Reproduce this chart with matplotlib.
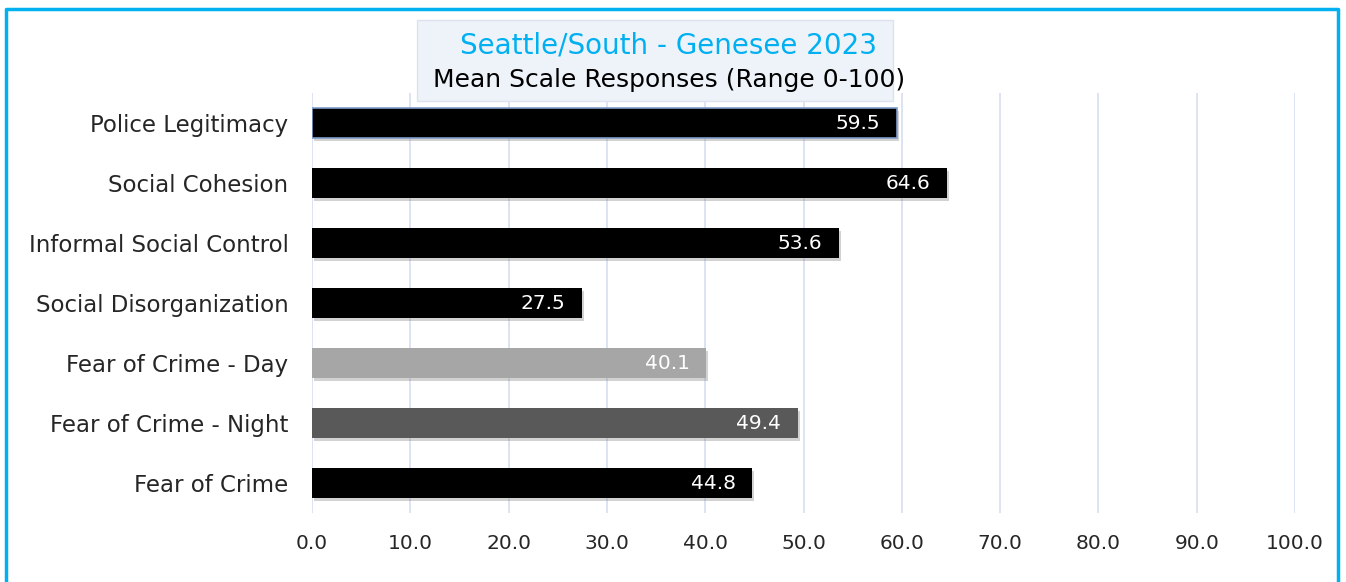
import matplotlib
matplotlib.use("Agg")
import matplotlib.pyplot as plt
import matplotlib.patheffects as pe
from matplotlib.patches import Rectangle
from matplotlib.lines import Line2D

categories = ["Police Legitimacy", "Social Cohesion", "Informal Social Control",
              "Social Disorganization", "Fear of Crime - Day",
              "Fear of Crime - Night", "Fear of Crime"]
values = [59.5, 64.6, 53.6, 27.5, 40.1, 49.4, 44.8]
bar_colors = ["#000000", "#000000", "#000000", "#000000", "#A6A6A6", "#595959", "#000000"]
xticks = [0, 10, 20, 30, 40, 50, 60, 70, 80, 90, 100]
title1 = "Seattle/South - Genesee 2023"
title2 = "Mean Scale Responses (Range 0-100)"

plt.rcParams['font.family'] = ['DejaVu Sans']
W, H = 1346, 582
fig = plt.figure(figsize=(W / 100, H / 100), dpi=100)
fig.patch.set_facecolor("white")

def fx(px):
    return px / W

def fy(py):
    return 1 - py / H

ax = fig.add_axes([fx(312), fy(513), fx(1295) - fx(312), fy(93) - fy(513)])
ax.set_xlim(0, 100)
ax.set_ylim(len(categories) - 0.5, -0.5)
ypos = list(range(len(categories)))
bars = ax.barh(ypos, values, height=0.5, color=bar_colors, zorder=3)
for b in bars:
    b.set_path_effects([pe.SimplePatchShadow(offset=(1.5, -2), shadow_rgbFace="#7F7F7F", alpha=0.35),
                        pe.Normal()])
bars[0].set_edgecolor("#7F9CC9")
bars[0].set_linewidth(1.2)

for b, v in zip(bars, values):
    ax.annotate(f"{v:.1f}", xy=(v, b.get_y() + b.get_height() / 2), xytext=(-12, 0),
                textcoords="offset points", ha="right", va="center",
                color="white", fontsize=14.5, zorder=5)

ax.set_xticks(xticks)
ax.set_xticklabels([f"{t:.1f}" for t in xticks], fontsize=14.5, color="#262626")
ax.set_yticks(ypos)
ax.set_yticklabels(categories, fontsize=16.5, color="#262626")
ax.tick_params(axis="both", length=0)
ax.tick_params(axis="y", pad=17)
ax.tick_params(axis="x", pad=15)
ax.grid(axis="x", color="#D9E2F3", linewidth=1.3, zorder=0)
for s in ax.spines.values():
    s.set_visible(False)

# title box
fig.patches.append(Rectangle((fx(417), fy(101)), fx(893) - fx(417), fy(20) - fy(101),
                             transform=fig.transFigure, facecolor="#EEF3FA",
                             edgecolor="#DCE3EE", linewidth=1, zorder=10))
fig.text(fx(669), fy(45), title1, ha="center", va="center", fontsize=20,
         color="#00B0F0", zorder=11)
fig.text(fx(669), fy(80), title2, ha="center", va="center", fontsize=18,
         color="#000000", zorder=11)

# outer border
bc = "#00B0F0"
fig.lines.append(Line2D([fx(6), fx(6), fx(1338), fx(1338)], [fy(600), fy(9), fy(9), fy(600)],
                        transform=fig.transFigure, color=bc, linewidth=2.5, zorder=20))

fig.savefig("out.png", dpi=100)
